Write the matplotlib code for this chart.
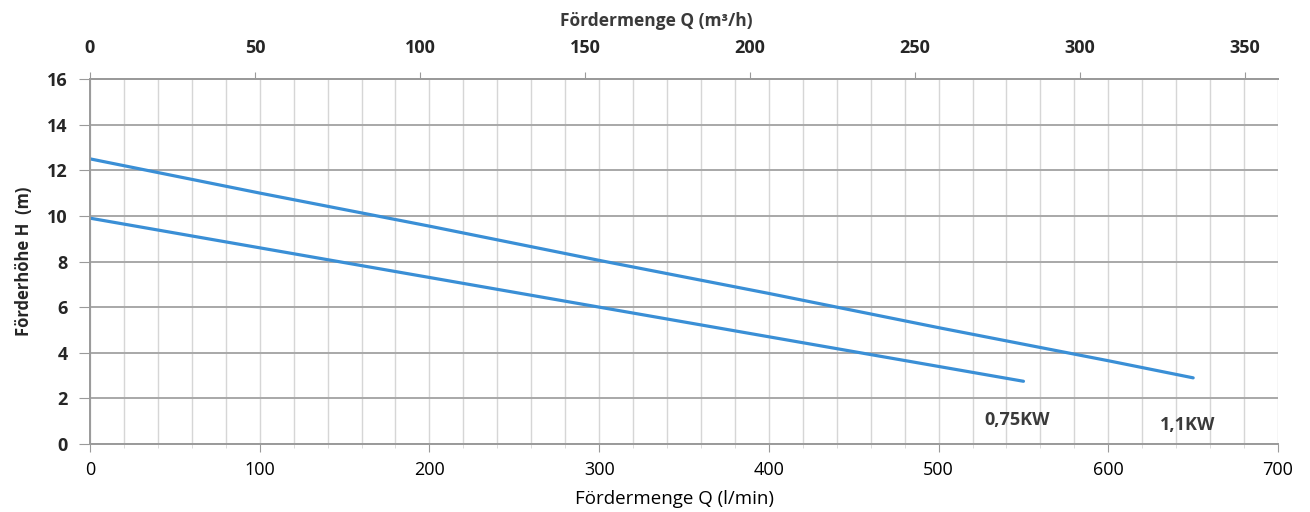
import numpy as np
import matplotlib.pyplot as plt
from matplotlib.ticker import MultipleLocator

plt.rcParams['font.family'] = ['Open Sans', 'DejaVu Sans']

# pump curves, flow in l/min, head in m
q_075 = [0, 100, 200, 300, 400, 500, 550]
h_075 = [9.9, 8.6, 7.3, 6.0, 4.7, 3.4, 2.75]
q_11 = [0, 100, 200, 300, 400, 500, 600, 650]
h_11 = [12.5, 11.0, 9.55, 8.05, 6.6, 5.1, 3.65, 2.9]

curve_labels = ['0,75KW', '1,1KW']
label_pos = [(546, 1.05), (647, 0.85)]

top_ticks = [0, 50, 100, 150, 200, 250, 300, 350]

line_col = '#3a8fd6'
grid_h = '#a8a8a8'
grid_v = '#d6d6d6'
txt = '#262626'

fig = plt.figure(figsize=(13.1, 5.12), dpi=100)
ax = fig.add_axes([0.0687, 0.1328, 0.9069, 0.7129])

ax.set_xlim(0, 700)
ax.set_ylim(0, 16)
ax.xaxis.set_major_locator(MultipleLocator(100))
ax.xaxis.set_minor_locator(MultipleLocator(20))
ax.yaxis.set_major_locator(MultipleLocator(2))

ax.grid(axis='x', which='both', color=grid_v, lw=1.0)
ax.grid(axis='y', which='major', color=grid_h, lw=1.4)
ax.set_axisbelow(True)

ax.plot(q_075, h_075, color=line_col, lw=2.3, solid_capstyle='round')
ax.plot(q_11, h_11, color=line_col, lw=2.3, solid_capstyle='round')

for lab, (x, y) in zip(curve_labels, label_pos):
    ax.text(x, y, lab, ha='center', va='center', fontsize=13,
            fontweight='bold', color='#3a3a3a')

for s in ['left', 'bottom', 'top']:
    ax.spines[s].set_color('#9a9a9a')
    ax.spines[s].set_linewidth(1.4)
ax.spines['right'].set_visible(False)

ax.tick_params(axis='x', which='major', length=6, color='#9a9a9a',
               labelsize=13, labelcolor='black', pad=6)
ax.tick_params(axis='x', which='minor', length=3, color=grid_v)
ax.tick_params(axis='y', length=8, color='#9a9a9a', labelsize=13,
               labelcolor=txt, pad=8)
for t in ax.get_yticklabels():
    t.set_fontweight('bold')

ax.set_xlabel('Fördermenge Q (l/min)', fontsize=13.5, color='black')
ax.xaxis.set_label_coords(0.492, -0.126)
ax.set_ylabel('Förderhöhe H  (m)', fontsize=12, fontweight='bold',
              color=txt, labelpad=10)

# top axis in m3/h, same pixel scale as printed
ax2 = ax.twiny()
ax2.set_xlim(0, 360)
ax2.set_xticks(top_ticks)
ax2.tick_params(axis='x', length=5, color='#9a9a9a', labelsize=13,
                labelcolor=txt, pad=11)
for t in ax2.get_xticklabels():
    t.set_fontweight('bold')
for s in ['left', 'bottom', 'right']:
    ax2.spines[s].set_visible(False)
ax2.spines['top'].set_color('#9a9a9a')
ax2.spines['top'].set_linewidth(1.4)
ax2.set_xlabel('Fördermenge Q (m³/h)', fontsize=12.5, fontweight='bold',
               color='#3a3a3a')
ax2.xaxis.set_label_coords(0.477, 1.146)

fig.savefig('out.png', dpi=100, facecolor='white')
